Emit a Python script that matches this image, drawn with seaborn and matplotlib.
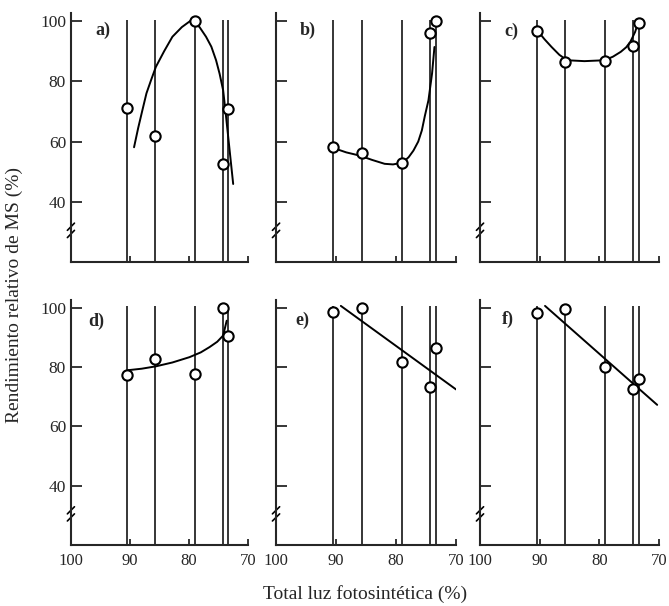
import matplotlib.pyplot as plt
import pandas as pd
import numpy as np
import seaborn as sns

# Luz fotosintética total (%) de cada tratamiento
luz = [90.5, 85.7, 79.0, 74.3, 73.4]

# Rendimiento relativo de MS (%) en cada panel
rend_a = [71.3, 62.0, 100.0, 52.7, 70.7]
rend_b = [58.1, 56.1, 53.0, 95.9, 100.0]
rend_c = [96.7, 86.4, 86.7, 91.7, 99.4]
rend_d = [77.3, 82.7, 77.6, 100.0, 90.7]
rend_e = [98.7, 100.0, 81.6, 73.4, 86.4]
rend_f = [98.2, 99.8, 80.1, 72.6, 75.9]

# Curvas de ajuste
curva_a_x = [89.3, 88.6, 87.9, 87.2, 86.4, 85.6, 84.2, 82.8, 81.2, 79.6,
             78.2, 77.1, 76.2, 75.4, 74.8, 74.2, 73.8, 73.4, 72.5]
curva_a_y = [58.1, 64.5, 70.3, 76.0, 80.5, 84.8, 90.0, 94.8, 98.0, 100.3,
             98.0, 94.8, 91.5, 87.0, 82.5, 77.0, 70.0, 62.6, 45.9]
curva_b_x = [90.8, 88.3, 86.0, 84.0, 81.9, 80.5, 78.9, 77.9, 77.1, 76.3,
             75.7, 75.2, 74.6, 74.0, 73.6]
curva_b_y = [58.1, 56.4, 55.3, 53.9, 52.6, 52.4, 53.0, 54.8, 57.0, 60.0,
             63.7, 68.5, 73.7, 82.6, 91.4]
curva_c_x = [90.3, 89.2, 88.0, 86.7, 85.4, 82.5, 79.1, 77.7, 76.4, 75.5,
             74.8, 74.0, 73.4]
curva_c_y = [96.7, 94.0, 91.4, 88.8, 87.0, 86.7, 87.0, 88.2, 89.8, 91.3,
             93.1, 96.4, 100.1]
curva_d_x = [90.3, 88.0, 85.6, 82.8, 79.9, 78.0, 76.5, 75.2, 74.2, 73.6]
curva_d_y = [79.0, 79.5, 80.3, 81.6, 83.4, 85.0, 86.8, 88.6, 90.7, 95.7]
curva_e_x = [89.2, 70.0]
curva_e_y = [100.7, 72.5]
curva_f_x = [89.1, 70.3]
curva_f_y = [100.7, 67.3]

paneles = ['a)', 'b)', 'c)', 'd)', 'e)', 'f)']
rendimientos = [rend_a, rend_b, rend_c, rend_d, rend_e, rend_f]
curvas = [(curva_a_x, curva_a_y), (curva_b_x, curva_b_y), (curva_c_x, curva_c_y),
          (curva_d_x, curva_d_y), (curva_e_x, curva_e_y), (curva_f_x, curva_f_y)]

sns.set_style('ticks')
plt.rcParams['font.family'] = ['Liberation Serif', 'DejaVu Serif']

fig = plt.figure(figsize=(6.69, 6.06), dpi=100)

# posiciones de los ejes [izq, abajo, ancho, alto]
columnas = [(0.106, 0.2646), (0.4126, 0.2691), (0.7175, 0.2675)]
filas = [(0.5677, 0.4109), (0.1007, 0.4043)]
pos_letra = [(0.136, 0.93), (0.133, 0.93), (0.137, 0.925),
             (0.096, 0.912), (0.106, 0.915), (0.12, 0.92)]

for i, (nombre, rend, (cx, cy)) in enumerate(zip(paneles, rendimientos, curvas)):
    fila, col = divmod(i, 3)
    ax = fig.add_axes([columnas[col][0], filas[fila][0], columnas[col][1], filas[fila][1]])

    # líneas verticales de cada tratamiento
    ax.vlines(luz, 20, 100.5, color='black', lw=1.1, zorder=1)

    df_curva = pd.DataFrame({'luz': cx, 'rend': cy})
    sns.lineplot(data=df_curva, x='luz', y='rend', sort=False, color='black',
                 lw=1.4, ax=ax, zorder=2)

    df = pd.DataFrame({'luz': luz, 'rend': rend})
    sns.scatterplot(data=df, x='luz', y='rend', s=55, facecolor='white',
                    edgecolor='black', linewidth=1.5, ax=ax, zorder=3)

    ax.set_xlim(100, 70)
    ax.set_ylim(20, 102.7)
    ax.set_xticks([100, 90, 80, 70])
    ax.set_yticks([40, 60, 80, 100])
    ax.tick_params(axis='y', direction='in', length=8, width=1.3, labelsize=12.5)
    ax.tick_params(axis='x', direction='in', length=4, width=1.3, labelsize=12, pad=6)
    if fila == 0:
        ax.set_xticklabels([])
    if col != 0:
        ax.set_yticklabels([])
    ax.set_xlabel('')
    ax.set_ylabel('')
    sns.despine(ax=ax)
    for s in ['left', 'bottom']:
        ax.spines[s].set_linewidth(1.5)

    # marca de corte del eje y
    tr = ax.get_yaxis_transform()
    for dy in [-1.2, 1.2]:
        ax.plot([-0.02, 0.02], [30.5 + dy - 1.2, 30.5 + dy + 1.2], color='black',
                lw=1.2, transform=tr, clip_on=False)

    ax.text(pos_letra[i][0], pos_letra[i][1], nombre, transform=ax.transAxes,
            fontsize=13, fontweight='bold', va='center', ha='left')

fig.text(0.021, 0.513, 'Rendimiento relativo de MS (%)', rotation=90,
         va='center', ha='center', fontsize=14)
fig.text(0.546, 0.02, 'Total luz fotosintética (%)', va='center', ha='center',
         fontsize=14)

fig.savefig('out.png', dpi=100)
